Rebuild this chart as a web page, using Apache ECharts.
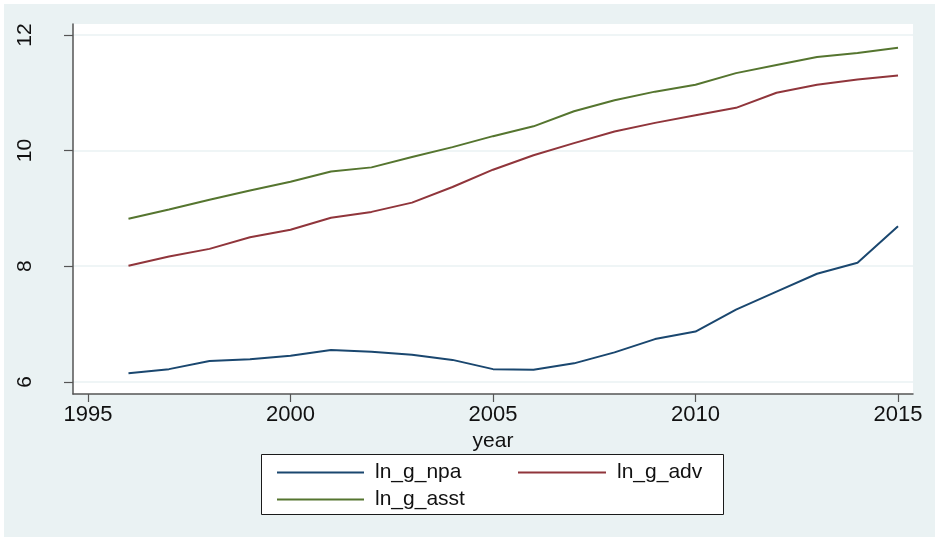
<!DOCTYPE html>
<html>
<head>
<meta charset="utf-8">
<script src="https://cdn.jsdelivr.net/npm/echarts@6/dist/echarts.min.js"></script>
<style>
  html, body { margin: 0; padding: 0; background: #ffffff; }
  #chart { width: 935px; height: 537px; }
</style>
</head>
<body>
<div id="chart"></div>
<script>
// Annual log series, 1996-2015
const years = [1996, 1997, 1998, 1999, 2000, 2001, 2002, 2003, 2004, 2005,
               2006, 2007, 2008, 2009, 2010, 2011, 2012, 2013, 2014, 2015];
const lnGNpa  = [6.15, 6.22, 6.36, 6.39, 6.45, 6.55, 6.52, 6.47, 6.38, 6.22,
                 6.21, 6.32, 6.51, 6.74, 6.87, 7.25, 7.56, 7.87, 8.06, 8.69];
const lnGAdv  = [8.01, 8.17, 8.30, 8.50, 8.63, 8.84, 8.94, 9.10, 9.37, 9.67,
                 9.92, 10.13, 10.33, 10.48, 10.61, 10.74, 11.00, 11.14, 11.23, 11.30];
const lnGAsst = [8.82, 8.98, 9.15, 9.31, 9.46, 9.64, 9.71, 9.89, 10.06, 10.25,
                 10.42, 10.68, 10.87, 11.02, 11.14, 11.34, 11.48, 11.62, 11.69, 11.78];
const seriesNames = ['ln_g_npa', 'ln_g_adv', 'ln_g_asst'];
const xTicks = [1995, 2000, 2005, 2010, 2015];
const yTicks = [6, 8, 10, 12];

const FONT = 'Liberation Sans, Arial, Helvetica, sans-serif';
const pairs = vals => years.map((y, i) => [y, vals[i]]);

const chart = echarts.init(document.getElementById('chart'), null, { renderer: 'canvas' });

const legendText = {
  fontSize: 21, color: '#111', lineHeight: 27,
  padding: [0, 0, 0, 6], fontFamily: FONT
};

chart.setOption({
  animation: false,
  backgroundColor: '#ffffff',
  textStyle: { fontFamily: FONT },
  graphic: [
    {
      type: 'rect', z: -10, silent: true,
      shape: { x: 4, y: 4, width: 931, height: 533 },
      style: { fill: '#EAF2F3' }
    },
    {
      type: 'rect', z: 1, silent: true,
      shape: { x: 261.5, y: 454.5, width: 462, height: 60 },
      style: { fill: '#ffffff', stroke: '#1a1a1a', lineWidth: 1 }
    }
  ],
  grid: {
    left: 73, right: 22, top: 24, bottom: 143,
    show: true, backgroundColor: '#ffffff', borderWidth: 0
  },
  xAxis: {
    type: 'value',
    min: 1994.63, max: 2015.37,
    name: 'year',
    nameLocation: 'middle',
    nameGap: 27,
    nameTextStyle: { fontSize: 21, color: '#111', fontFamily: FONT },
    axisLine: { show: true, onZero: false, lineStyle: { color: '#555', width: 1.5 } },
    axisTick: { show: true, length: 8, customValues: xTicks, lineStyle: { color: '#555', width: 1.2 } },
    axisLabel: {
      customValues: xTicks, fontSize: 22, color: '#111', margin: 10, fontFamily: FONT,
      formatter: v => String(v)
    },
    splitLine: { show: false }
  },
  yAxis: {
    type: 'value',
    min: 5.79, max: 12.19,
    axisLine: { show: true, onZero: false, lineStyle: { color: '#555', width: 1.5 } },
    axisTick: { show: true, length: 9, customValues: yTicks, lineStyle: { color: '#555', width: 1.2 } },
    axisLabel: {
      customValues: yTicks, rotate: 90, fontSize: 21, color: '#111', margin: 37, fontFamily: FONT,
      formatter: v => String(v)
    },
    splitLine: { show: true, lineStyle: { color: '#EAF2F3', width: 1.5 } }
  },
  legend: [
    {
      data: [seriesNames[0], seriesNames[2]],
      orient: 'vertical',
      left: 272, top: 454,
      itemWidth: 87, itemHeight: 2, itemGap: 0,
      icon: 'rect',
      z: 5,
      textStyle: legendText
    },
    {
      data: [seriesNames[1]],
      orient: 'vertical',
      left: 513, top: 454,
      itemWidth: 88, itemHeight: 2, itemGap: 0,
      icon: 'rect',
      z: 5,
      textStyle: legendText
    }
  ],
  series: [
    { name: seriesNames[0], type: 'line', data: pairs(lnGNpa), symbol: 'none',
      color: '#1A476F', lineStyle: { color: '#1A476F', width: 2 } },
    { name: seriesNames[1], type: 'line', data: pairs(lnGAdv), symbol: 'none',
      color: '#90353B', lineStyle: { color: '#90353B', width: 2 } },
    { name: seriesNames[2], type: 'line', data: pairs(lnGAsst), symbol: 'none',
      color: '#55752F', lineStyle: { color: '#55752F', width: 2 } }
  ]
});
</script>
</body>
</html>
